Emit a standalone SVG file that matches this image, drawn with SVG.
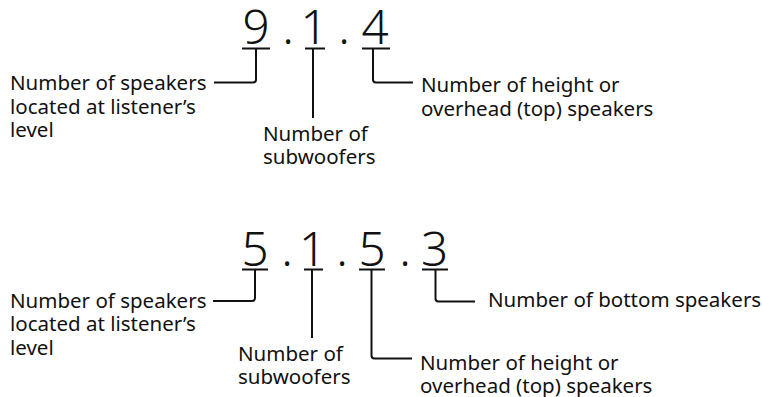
<svg xmlns="http://www.w3.org/2000/svg" width="762" height="397" viewBox="0 0 762 397">
<style>
.lbl{font-family:"Noto Sans","Open Sans",sans-serif;font-size:20.5px;fill:#111}
.dig{font-family:"Noto Sans","Open Sans",sans-serif;font-size:47.5px;font-weight:320;fill:#111;text-anchor:middle}
.ln{fill:none;stroke:#111;stroke-width:2}
</style>
<rect width="762" height="397" fill="#fff"/>
<g id="formula-914">
<text class="dig" x="256" y="44">9</text>
<text class="dig" x="288" y="44">.</text>
<text class="dig" x="314" y="44">1</text>
<text class="dig" x="344" y="44">.</text>
<text class="dig" x="375" y="44">4</text>
</g>
<g id="formula-5153">
<text class="dig" x="255" y="265.5">5</text>
<text class="dig" x="287" y="265.5">.</text>
<text class="dig" x="312.5" y="265.5">1</text>
<text class="dig" x="342" y="265.5">.</text>
<text class="dig" x="372" y="265.5">5</text>
<text class="dig" x="405" y="265.5">.</text>
<text class="dig" x="434.5" y="265.5">3</text>
</g>
<g id="connectors">
<path class="ln" d="M242,48.5H270M305,48.5H325M362,48.5H390"/>
<path class="ln" d="M256,48.5V79.5Q256,82.5 253,82.5H214"/>
<path class="ln" d="M313,48.5V118"/>
<path class="ln" d="M373,48.5V79.5Q373,82.5 376,82.5H413"/>
<path class="ln" d="M242,269.5H268M304,269.5H323M359,269.5H385M422,269.5H448"/>
<path class="ln" d="M255,269.5V298Q255,301 252,301H213"/>
<path class="ln" d="M312,269.5V338"/>
<path class="ln" d="M371.5,269.5V355.5Q371.5,358.5 374.5,358.5H412"/>
<path class="ln" d="M435.5,269.5V298.5Q435.5,301.5 438.5,301.5H475"/>
</g>
<g id="top-level-label">
<text class="lbl" x="10" y="90">Number of speakers</text>
<text class="lbl" x="10" y="113.5">located at listener’s</text>
<text class="lbl" x="10" y="137">level</text>
</g>
<g id="top-sub-label">
<text class="lbl" x="263" y="140.5">Number of</text>
<text class="lbl" x="263" y="163.5">subwoofers</text>
</g>
<g id="top-height-label">
<text class="lbl" x="421" y="92">Number of height or</text>
<text class="lbl" x="421" y="116">overhead (top) speakers</text>
</g>
<g id="bottom-level-label">
<text class="lbl" x="10" y="307.5">Number of speakers</text>
<text class="lbl" x="10" y="331">located at listener’s</text>
<text class="lbl" x="10" y="354.5">level</text>
</g>
<g id="bottom-sub-label">
<text class="lbl" x="238" y="360.5">Number of</text>
<text class="lbl" x="238" y="383.5">subwoofers</text>
</g>
<g id="bottom-height-label">
<text class="lbl" x="420" y="369.5">Number of height or</text>
<text class="lbl" x="420" y="393">overhead (top) speakers</text>
</g>
<g id="bottom-bottom-label">
<text class="lbl" x="488" y="306.5">Number of bottom speakers</text>
</g>
</svg>
